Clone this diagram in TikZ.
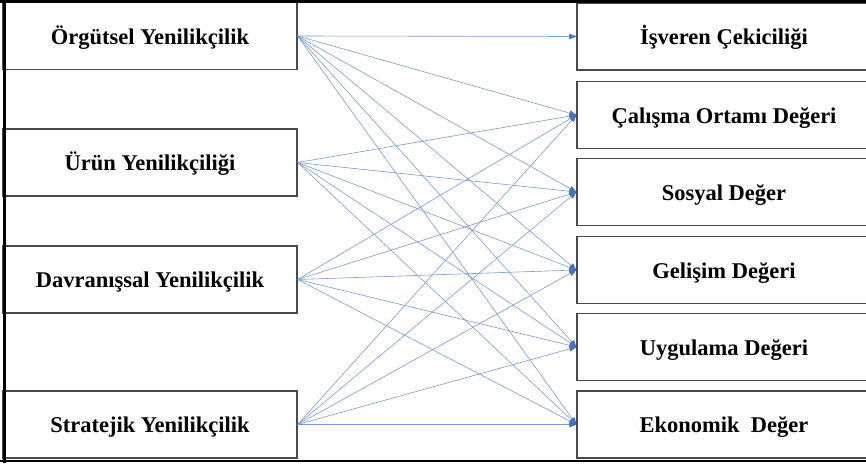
\documentclass[tikz,border=0pt]{standalone}
\usepackage{fontspec}
\setmainfont{Liberation Serif}
\usetikzlibrary{arrows.meta}
\definecolor{linkblue}{HTML}{7B9BD4}
\definecolor{tipblue}{HTML}{4472C4}
\definecolor{boxgray}{HTML}{4A4A4A}
\begin{document}
\begin{tikzpicture}[x=1pt,y=-1pt,
  box/.style={draw=boxgray, line width=1.2pt, minimum width=294pt, minimum height=67pt,
    inner sep=0pt, fill=white, text height=16pt, text depth=0pt,
    font=\bfseries\fontsize{22.5}{26}\selectfont},
  link/.style={draw=linkblue, line width=0.6pt,
    -{Triangle[length=7pt,width=5.5pt,fill=tipblue,color=tipblue]}},
  frameline/.style={draw=black, line width=2.8pt}]
\useasboundingbox (0,0) rectangle (866,463);
% left boxes
\node[box] (L1) at (150,36)    {Örgütsel Yenilikçilik};
\node[box] (L2) at (150,162.5) {Ürün Yenilikçiliği};
\node[box] (L3) at (150,279.5) {Davranışsal Yenilikçilik};
\node[box] (L4) at (150,424.5) {Stratejik Yenilikçilik};
% right boxes
\node[box] (R1) at (724,36.5)  {İşveren Çekiciliği};
\node[box] (R2) at (724,115)   {Çalışma Ortamı Değeri};
\node[box] (R3) at (724,192)   {Sosyal Değer};
\node[box] (R4) at (724,270)   {Gelişim Değeri};
\node[box] (R5) at (724,347)   {Uygulama Değeri};
\node[box] (R6) at (724,424.5) {Ekonomik \ Değer};
% connectors
\foreach \t in {1,...,6} { \draw[link] (L1.east) -- (R\t.west); }
\foreach \s in {2,3,4} {
  \foreach \t in {2,...,6} { \draw[link] (L\s.east) -- (R\t.west); }
}
% outer frame
\draw[frameline] (0,1.3) -- (866,1.3);
\draw[frameline] (4.5,0) -- (4.5,463);
\draw[frameline] (0,461) -- (866,461);
\end{tikzpicture}
\end{document}
